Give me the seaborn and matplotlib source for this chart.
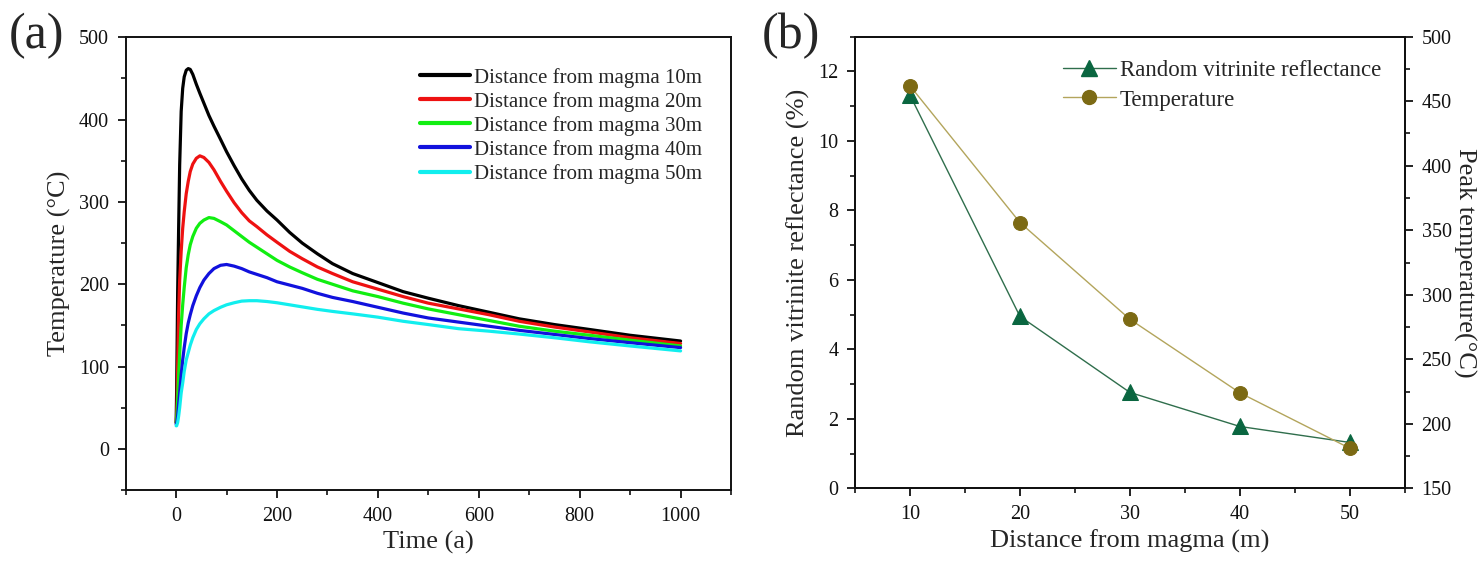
import numpy as np
import pandas as pd
import matplotlib
matplotlib.use("Agg")
import matplotlib.pyplot as plt
from matplotlib.ticker import MultipleLocator
from matplotlib.lines import Line2D
import seaborn as sns

# ---- panel (a): temperature history at different distances from the intrusion ----
time_a = [0, 1, 2, 3, 5, 7, 10, 13, 16, 20, 24, 28, 33, 40, 47, 55, 65, 75, 88,
          100, 115, 130, 145, 160, 180, 200, 225, 250, 280, 310, 350, 400, 450,
          500, 560, 620, 680, 750, 820, 900, 1000]
temp_10m = [32, 70, 130, 190, 270, 345, 410, 438, 452, 460, 462, 461, 455, 443,
            432, 420, 405, 392, 376, 361, 344, 328, 314, 302, 289, 278, 263, 250,
            237, 225, 213, 202, 191, 183, 174, 166, 158, 151, 145, 138, 131]
temp_20m = [32, 40, 60, 100, 165, 205, 240, 268, 288, 310, 325, 337, 346, 353,
            356, 354, 348, 339, 325, 313, 299, 287, 277, 270, 260, 251, 240, 231,
            221, 213, 203, 194, 185, 177, 170, 163, 155, 148, 142, 135, 128]
temp_30m = [32, 35, 45, 60, 90, 115, 150, 175, 196, 220, 236, 248, 258, 268,
            274, 278, 281, 280, 276, 272, 265, 258, 251, 245, 237, 229, 221, 214,
            206, 200, 192, 185, 177, 170, 163, 156, 149, 143, 138, 132, 125]
temp_40m = [30, 31, 35, 40, 55, 68, 90, 108, 123, 140, 153, 163, 174, 186, 196,
            205, 213, 219, 223, 224, 222, 219, 215, 212, 208, 203, 199, 195, 189,
            184, 179, 172, 165, 159, 154, 149, 144, 139, 134, 129, 123]
temp_50m = [28, 28, 30, 32, 40, 50, 68, 80, 94, 108, 117, 126, 135, 145, 152,
            158, 164, 168, 172, 175, 177.5, 179.5, 180, 180, 179, 177.5, 175,
            172.5, 169.5, 167, 164, 160, 155, 151, 146, 143, 139.5, 135, 130,
            125, 119]
series_labels = ["Distance from magma 10m", "Distance from magma 20m",
                 "Distance from magma 30m", "Distance from magma 40m",
                 "Distance from magma 50m"]
series_colors = ["#000000", "#ee1111", "#11ee11", "#1111dd", "#11eeee"]

# ---- panel (b): vitrinite reflectance and peak temperature vs distance ----
distance = [10, 20, 30, 40, 50]
reflectance = [11.32, 4.95, 2.76, 1.78, 1.32]
peak_temp = [462, 356, 281, 224, 181]

sns.set_theme(style="ticks")
plt.rcParams["font.family"] = ["Liberation Serif", "DejaVu Serif"]

fig = plt.figure(figsize=(14.84, 5.62), dpi=100)
ax_a = fig.add_axes([0.0847, 0.1281, 0.4079, 0.8055])
ax_b = fig.add_axes([0.5761, 0.1311, 0.3706, 0.8036])

tick_fs = 14.5
label_fs = 19

def style_axes(ax):
    for sp in ax.spines.values():
        sp.set_linewidth(1.4)
        sp.set_color("#111111")
    ax.tick_params(which="major", direction="out", length=6, width=1.3,
                   labelsize=tick_fs, colors="#111111", pad=6)
    ax.tick_params(which="minor", direction="out", length=3.5, width=1.2,
                   colors="#111111")

# panel (a)
frames = []
for lab, vals in zip(series_labels, [temp_10m, temp_20m, temp_30m, temp_40m, temp_50m]):
    frames.append(pd.DataFrame({"Time": time_a, "Temperature": vals, "Series": lab}))
df_a = pd.concat(frames, ignore_index=True)
sns.lineplot(data=df_a, x="Time", y="Temperature", hue="Series",
             palette=dict(zip(series_labels, series_colors)),
             linewidth=2.3, sort=True, ax=ax_a, legend=False)
ax_a.set_xlim(-100, 1100)
ax_a.set_ylim(-50, 500)
ax_a.xaxis.set_major_locator(MultipleLocator(200))
ax_a.xaxis.set_minor_locator(MultipleLocator(100))
ax_a.yaxis.set_major_locator(MultipleLocator(100))
ax_a.yaxis.set_minor_locator(MultipleLocator(50))
ax_a.set_xlabel("Time (a)", fontsize=label_fs, labelpad=4)
ax_a.set_ylabel("Temperature (°C)", fontsize=label_fs, labelpad=6)
style_axes(ax_a)
handles_a = [Line2D([], [], color=c, lw=3.0) for c in series_colors]
ax_a.legend(handles_a, series_labels, loc="upper left",
            bbox_to_anchor=(0.486, 0.933), frameon=False, fontsize=15,
            handlelength=2.4, handletextpad=0.2, labelspacing=0.2,
            borderpad=0, borderaxespad=0)
fig.text(0.006, 0.977, "(a)", fontsize=36, va="top", ha="left")

# panel (b)
refl_line = "#2f6e4c"
refl_mark = "#0a6640"
temp_line = "#b3a55c"
temp_mark = "#7c6a14"
df_b = pd.DataFrame({"Distance": distance, "Reflectance": reflectance,
                     "PeakTemp": peak_temp})
sns.lineplot(data=df_b, x="Distance", y="Reflectance", ax=ax_b, color=refl_line,
             linewidth=1.0, marker="^", markersize=12,
             markerfacecolor=refl_mark, markeredgecolor=refl_mark)
ax_t = ax_b.twinx()
sns.lineplot(data=df_b, x="Distance", y="PeakTemp", ax=ax_t, color=temp_line,
             linewidth=1.0, marker="o", markersize=10,
             markerfacecolor=temp_mark, markeredgecolor=temp_mark)
ax_b.set_xlim(5, 55)
ax_b.set_ylim(0, 13)
ax_t.set_ylim(150, 500)
ax_b.xaxis.set_major_locator(MultipleLocator(10))
ax_b.xaxis.set_minor_locator(MultipleLocator(5))
ax_b.yaxis.set_major_locator(MultipleLocator(2))
ax_b.yaxis.set_minor_locator(MultipleLocator(1))
ax_t.yaxis.set_major_locator(MultipleLocator(50))
ax_t.yaxis.set_minor_locator(MultipleLocator(25))
ax_b.set_xlabel("Distance from magma (m)", fontsize=label_fs, labelpad=4)
ax_b.set_ylabel("Random vitrinite reflectance (%)", fontsize=label_fs, labelpad=6)
ax_t.set_ylabel("")
fig.text(0.987, 0.5329, "Peak temperature(°C)", fontsize=label_fs,
         rotation=270, ha="center", va="center")
style_axes(ax_b)
style_axes(ax_t)
handles_b = [Line2D([], [], color=refl_line, lw=1.0, marker="^", markersize=12,
                    markerfacecolor=refl_mark, markeredgecolor=refl_mark),
             Line2D([], [], color=temp_line, lw=1.0, marker="o", markersize=10,
                    markerfacecolor=temp_mark, markeredgecolor=temp_mark)]
ax_t.legend(handles_b, ["Random vitrinite reflectance", "Temperature"],
            loc="upper left", bbox_to_anchor=(0.378, 0.948), frameon=False,
            fontsize=16.5, handlelength=2.3, handletextpad=0.2,
            labelspacing=0.36, borderpad=0, borderaxespad=0)
fig.text(0.513, 0.977, "(b)", fontsize=36, va="top", ha="left")

fig.savefig("out.png", dpi=100)
